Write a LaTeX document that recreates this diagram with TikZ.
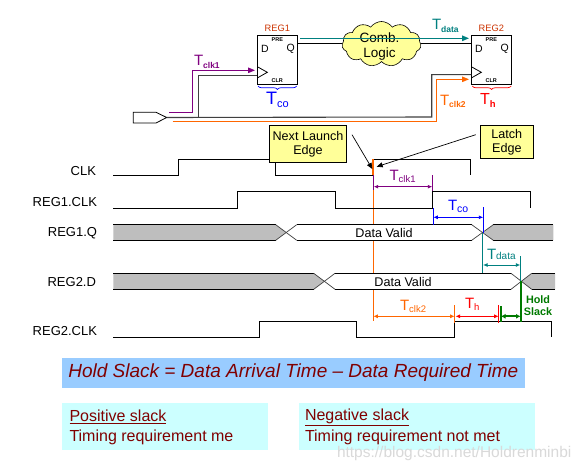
\documentclass[tikz,border=0pt]{standalone}
\usepackage{fontspec}
\setmainfont{Liberation Sans}
\usetikzlibrary{arrows.meta,shapes.symbols,decorations.pathreplacing}
\definecolor{cPurple}{HTML}{800080}
\definecolor{cTeal}{HTML}{008080}
\definecolor{cOrange}{HTML}{FF6600}
\definecolor{cGreen}{HTML}{007A00}
\definecolor{cGray}{HTML}{BEBEBE}
\definecolor{cWire}{HTML}{404040}
\definecolor{cYel}{HTML}{FFFF99}
\definecolor{cBlue}{HTML}{99CCFF}
\definecolor{cCyan}{HTML}{CCFFFF}
\definecolor{cRed}{HTML}{800000}
\definecolor{cReg}{HTML}{CC3300}
\newcommand{\fsz}[1]{\fontsize{#1}{#1}\selectfont}
\newcommand{\TT}[4]{{\fsz{#1}T}\raisebox{-#4pt}{\fsz{#2}#3}}
\tikzset{
  txt/.style={inner sep=0pt,outer sep=0pt},
  wave/.style={draw=black,line width=1pt,line join=miter},
  reg/.style={draw=black,line width=.8pt,fill=white,minimum width=40,minimum height=49,inner sep=0pt},
  callout/.style={draw=black,line width=1pt,fill=cYel,inner sep=0pt,align=center,font=\fsz{12.6}},
  sig/.style={txt,anchor=east,font=\fsz{13}},
  pinA/.style={txt,font=\fsz{10.5}},
  pinB/.style={txt,font=\bfseries\fsz{5.5}},
  arr/.style={line width=1.3pt,-{Triangle[length=7pt,width=5.5pt]}},
  dim/.style={line width=1pt,{Latex[length=4.5pt,width=4pt]}-{Latex[length=4.5pt,width=4pt]}},
  cross/.style={draw=cWire,line width=.7pt},
}
\begin{document}
\begin{tikzpicture}[x=1pt,y=-1pt]
\useasboundingbox (0,0) rectangle (585,468);
\fill[white] (0,0) rectangle (585,468);

% schematic
\node[reg] (r1) at (277.3,59.8) {};
\node[reg] (r2) at (491.3,59.8) {};
\node[txt,text=cReg,font=\fsz{9.3}] (r1n) at (277.3,28.5) {REG1};
\node[txt,text=cReg,font=\fsz{9.3}] (r2n) at (491.3,28.5) {REG2};
\foreach \r/\x in {r1/277.3,r2/491.3}{
  \node[pinA] (\r D) at (\x-12.3,48.5) {D};
  \node[pinA] (\r Q) at (\x+13.3,48.5) {Q};
  \node[pinB] (\r P) at (\x,39.5) {PRE};
  \node[pinB] (\r C) at (\x,81) {CLR};
}
\coordinate (t1a) at (257.3,66.7); \coordinate (t1b) at (267.3,72.3); \coordinate (t1c) at (257.3,78);
\coordinate (t2a) at (471.3,66.7); \coordinate (t2b) at (481.3,72.3); \coordinate (t2c) at (471.3,78);
\draw[line width=.8pt] (t1a)--(t1b)--(t1c);
\draw[line width=.8pt] (t2a)--(t2b)--(t2c);

\node[cloud,cloud puffs=11,cloud puff arc=110,aspect=1.8,draw=black,line width=.6pt,fill=cYel,
      minimum width=79,minimum height=45,inner sep=0pt] (cl) at (381.5,44) {};
\coordinate (q1) at (297.3,44); \coordinate (d2) at (471.3,44);
\draw[line width=1pt] (q1)--(cl.west |- q1);
\draw[line width=1pt] (cl.east |- d2)--(d2);
\node[txt,align=center,font=\fsz{13.5}] (clt) at (379.5,46.5) {Comb.\\[1pt]Logic};
\coordinate (ts) at (300,38.3); \coordinate (te) at (469,38.3);
\draw[arr,cTeal] (ts)--(te);

\coordinate (pa) at (133.3,112.3); \coordinate (pb) at (156,112.3); \coordinate (pc) at (166.7,117.5);
\coordinate (pd) at (156,123); \coordinate (pe) at (133.3,123);
\draw[line width=.8pt,fill=white] (pa)--(pb)--(pc)--(pd)--(pe)--cycle;
\coordinate (br) at (198.3,117);
\draw[cWire,line width=1.1pt] (pc)--(431.7,117)--(431.7,74.7)--(471.3,74.7);
\draw[cWire,line width=1.1pt] (br)--(198.3,75.3)--(257.3,75.3);
\draw[arr,cPurple,line width=1pt] (169.3,112.7)--(192.7,112.7)--(192.7,70.3)--(255,70.3);
\draw[arr,cOrange,line width=1pt] (172.7,121.7)--(436,121.7)--(436,79.3)--(469,79.3);

\draw[blue,line width=.7pt,decorate,decoration={brace,mirror,amplitude=3.5pt}] (258,86)--(296.7,86);
\draw[red,line width=.7pt,decorate,decoration={brace,mirror,amplitude=3.5pt}] (472.3,86)--(511,86);

\node[txt,anchor=base west,text=cPurple] (l1) at (194,66) {\TT{15}{8.5}{\bfseries clk1}{2.5}};
\node[txt,anchor=base west,text=cTeal] (l2) at (432,30) {\TT{15}{8.5}{\bfseries data}{2.5}};
\node[txt,anchor=base west,text=blue] (l3) at (266,104) {\TT{18}{11}{co}{3.5}};
\node[txt,anchor=base west,text=cOrange] (l4) at (440,105) {\TT{15}{8.5}{\bfseries clk2}{2.5}};
\node[txt,anchor=base west,text=red] (l5) at (480,104) {\TT{16}{9.5}{\bfseries h}{3}};

% timing: guide lines behind the signals
\draw[cOrange,line width=.8pt] (373.3,175)--(373.3,321);

% waves
\draw[wave] (113.3,175)--(178.3,175)--(178.3,159.3)--(275.7,159.3)--(275.7,175)--(373.3,175);
\draw[wave] (373.3,159.3)--(470.7,159.3)--(470.7,175.3);
\draw[wave] (113.3,208.3)--(237.3,208.3)--(237.3,191.7)--(335.3,191.7)--(335.3,208.3)--(432.3,208.3)--(432.3,191.7)--(530.7,191.7)--(530.7,208.3);

% REG1.Q
\fill[cGray] (113.3,224.7)--(275.7,224.7)--(286.2,232.5)--(275.7,240.3)--(113.3,240.3)--cycle;
\fill[white] (286.2,232.5)--(296.7,224.7)--(471.7,224.7)--(483.3,232.5)--(471.7,240.3)--(296.7,240.3)--cycle;
\fill[cGray] (483.3,232.5)--(493.3,224.7)--(553.3,224.7)--(553.3,240.3)--(493.3,240.3)--cycle;
\draw[wave] (113.3,224.7)--(275.7,224.7); \draw[wave] (113.3,240.3)--(275.7,240.3);
\draw[wave] (296.7,224.7)--(471.7,224.7); \draw[wave] (296.7,240.3)--(471.7,240.3);
\draw[wave] (493.3,224.7)--(553.3,224.7); \draw[wave] (493.3,240.3)--(553.3,240.3);
\draw[cross] (275.7,224.7)--(296.7,240.3); \draw[cross] (275.7,240.3)--(296.7,224.7);
\draw[cross] (471.7,224.7)--(493.3,240.3); \draw[cross] (471.7,240.3)--(493.3,224.7);
\node[txt,font=\fsz{12.6},fill=white] (dv1) at (384,232.5) {Data Valid};

% timing verticals of Tco / Tdata
\draw[cTeal,line width=.9pt] (482.3,232.5)--(482.3,273.3);

% REG2.D
\fill[cGray] (113.3,273.3)--(313.7,273.3)--(324.3,281.3)--(313.7,289.3)--(113.3,289.3)--cycle;
\fill[white] (324.3,281.3)--(335,273.3)--(511,273.3)--(521.3,281.3)--(511,289.3)--(335,289.3)--cycle;
\fill[cGray] (521.3,281.3)--(531.7,273.3)--(555,273.3)--(555,289.3)--(531.7,289.3)--cycle;
\draw[wave] (113.3,273.3)--(313.7,273.3); \draw[wave] (113.3,289.3)--(313.7,289.3);
\draw[wave] (335,273.3)--(511,273.3); \draw[wave] (335,289.3)--(511,289.3);
\draw[wave] (531.7,273.3)--(555,273.3); \draw[wave] (531.7,289.3)--(555,289.3);
\draw[cross] (313.7,273.3)--(335,289.3); \draw[cross] (313.7,289.3)--(335,273.3);
\draw[cross] (511,273.3)--(531.7,289.3); \draw[cross] (511,289.3)--(531.7,273.3);
\node[txt,font=\fsz{12.6}] (dv2) at (403,282) {Data Valid};

% REG2.CLK
\draw[wave] (113.3,337.3)--(259.3,337.3)--(259.3,321.7)--(356.3,321.7)--(356.3,337.3)--(454.7,337.3)--(454.7,321.7)--(551.3,321.7)--(551.3,337.3);

% signal names
\node[sig] (n1) at (96,171) {CLK};
\node[sig] (n2) at (97,202) {REG1.CLK};
\node[sig] (n3) at (97,233) {REG1.Q};
\node[sig] (n4) at (96,282) {REG2.D};
\node[sig] (n5) at (97,331) {REG2.CLK};

% launch/latch edge
\draw[cOrange,line width=2pt] (373.3,159.3)--(373.3,175);
\node[callout,minimum width=77.4,minimum height=36.7] (c1) at (308,144.3) {Next Launch\\[1.5pt]Edge};
\node[callout,minimum width=53,minimum height=32.7] (c2) at (506.8,142.3) {Latch\\[1.5pt]Edge};
\coordinate (c1e) at (352,134.7); \coordinate (c1t) at (372.3,169);
\coordinate (c2e) at (475.7,134.7); \coordinate (c2t) at (376.7,166.7);
\draw[line width=.7pt,-{Triangle[length=6pt,width=5pt]}] (c1e)--(c1t);
\draw[line width=.7pt,-{Triangle[length=6pt,width=5pt]}] (c2e)--(c2t);

% Tclk1
\draw[cPurple,line width=1pt] (373.7,175)--(373.7,190);
\draw[cPurple,line width=1pt] (432.3,175)--(432.3,191);
\draw[dim,cPurple] (373.7,186.7)--(432.3,186.7);
\node[txt,anchor=base west,text=cPurple] (d1) at (389.5,180) {\TT{15}{9.5}{clk1}{2.5}};
% Tco
\draw[blue,line width=1pt] (433.3,208)--(433.3,224.7);
\draw[blue,line width=1pt] (483.3,207)--(483.3,232.5);
\draw[dim,blue] (433.3,217.3)--(483.3,217.3);
\node[txt,anchor=base west,text=blue] (d2b) at (448,210) {\TT{15}{10.5}{co}{2.5}};
% Tdata
\draw[cTeal,line width=1pt] (520.3,256)--(520.3,281);
\draw[dim,cTeal] (483,265)--(520.3,265);
\node[txt,anchor=base west,text=cTeal] (d3) at (487,259) {\TT{15}{10}{data}{0.5}};
% Tclk2
\draw[cOrange,line width=1.5pt] (454.7,305)--(454.7,322.5);
\draw[dim,cOrange] (373.3,316.3)--(454.7,316.3);
\node[txt,anchor=base west,text=cOrange] (d4) at (400,310) {\TT{15}{9.5}{clk2}{2.5}};
% Th
\draw[red,line width=1pt] (498.7,305)--(498.7,322.5);
\draw[dim,red] (455.5,316.3)--(498.7,316.3);
\node[txt,anchor=base west,text=red] (d5) at (465,308) {\TT{15}{9.5}{h}{2.5}};
% Hold slack
\draw[cGreen,line width=2pt] (500.5,306)--(500.5,322);
\draw[cGreen,line width=2.5pt] (521,281.3)--(521,321.7);
\draw[cGreen,line width=2pt,{Latex[length=4.5pt,width=5pt]}-{Latex[length=4.5pt,width=5pt]}] (501,316.3)--(520.5,316.3);
\node[txt,align=center,text=cGreen,font=\bfseries\fsz{10.8}] (hs) at (538,305.5) {Hold\\[1.5pt]Slack};

% bottom
\node[fill=cBlue,minimum width=463,minimum height=30,inner sep=0pt,text=cRed,font=\itshape\fsz{19}] (f) at (293.3,373) {Hold Slack = Data Arrival Time -- Data Required Time};
\node[fill=cCyan,minimum width=206,minimum height=47,inner sep=0pt] (p1) at (165,426.5) {};
\node[fill=cCyan,minimum width=236,minimum height=47,inner sep=0pt] (p2) at (417,426.5) {};
\node[txt,anchor=west,text=cRed,font=\fsz{16}] (p1a) at (69.5,417) {\underline{Positive slack}};
\node[txt,anchor=west,text=cRed,font=\fsz{16}] (p1b) at (69.5,437) {Timing requirement me};
\node[txt,anchor=west,text=cRed,font=\fsz{16}] (p2a) at (305,417) {\underline{Negative slack}};
\node[txt,anchor=west,text=cRed,font=\fsz{16}] (p2b) at (305,437) {Timing requirement not met};
\node[txt,anchor=west,text=black!15,font=\fsz{15.5}] (wm) at (337,453) {https://blog.csdn.net/Holdrenminbi};
\end{tikzpicture}
\end{document}
